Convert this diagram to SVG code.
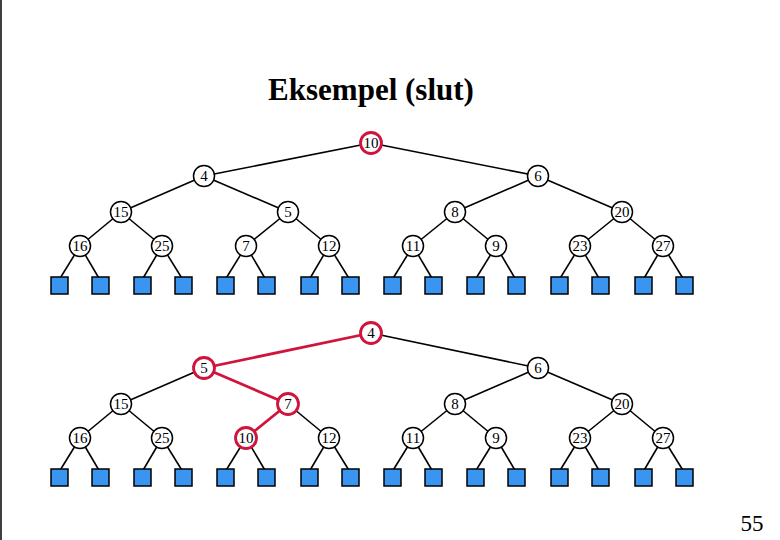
<svg xmlns="http://www.w3.org/2000/svg" width="780" height="540" viewBox="0 0 780 540">
<style>
.n circle{fill:#fff;stroke:#000;stroke-width:1.5}
.n.r circle{stroke:#d0143c;stroke-width:2.8}
.n text{font-family:"Liberation Serif",serif;font-size:15px;text-anchor:middle;dominant-baseline:central}
.e line{stroke:#000;stroke-width:1.6}
.e line.r{stroke:#d0143c;stroke-width:2.8}
.l rect{fill:#3a95f0;stroke:#000;stroke-width:1.5}
.t{font-family:"Liberation Serif",serif}
</style>
<rect x="0" y="0" width="780" height="540" fill="#fff"/>
<line x1="1" y1="0" x2="1" y2="540" stroke="#000" stroke-width="1.5"/>
<text class="t" x="371" y="100" font-size="31" font-weight="bold" text-anchor="middle">Eksempel (slut)</text>
<text class="t" x="752" y="531" font-size="23" text-anchor="middle">55</text>
<g id="connectors" class="e">
<line x1="371" y1="143" x2="204" y2="176"/><line x1="371" y1="143" x2="538" y2="176"/>
<line x1="204" y1="176" x2="121" y2="212"/><line x1="204" y1="176" x2="288" y2="212"/>
<line x1="538" y1="176" x2="455" y2="212"/><line x1="538" y1="176" x2="622" y2="212"/>
<line x1="121" y1="212" x2="80" y2="246"/><line x1="121" y1="212" x2="162" y2="246"/>
<line x1="288" y1="212" x2="246" y2="246"/><line x1="288" y1="212" x2="329" y2="246"/>
<line x1="455" y1="212" x2="413" y2="246"/><line x1="455" y1="212" x2="496" y2="246"/>
<line x1="622" y1="212" x2="580" y2="246"/><line x1="622" y1="212" x2="663" y2="246"/>
<g id="leafEdgesTop">
<line x1="80" y1="246" x2="59" y2="280"/><line x1="80" y1="246" x2="100" y2="280"/>
<line x1="162" y1="246" x2="142" y2="280"/><line x1="162" y1="246" x2="183" y2="280"/>
<line x1="246" y1="246" x2="225" y2="280"/><line x1="246" y1="246" x2="266" y2="280"/>
<line x1="329" y1="246" x2="309" y2="280"/><line x1="329" y1="246" x2="350" y2="280"/>
<line x1="413" y1="246" x2="392" y2="280"/><line x1="413" y1="246" x2="433" y2="280"/>
<line x1="496" y1="246" x2="475" y2="280"/><line x1="496" y1="246" x2="516" y2="280"/>
<line x1="580" y1="246" x2="559" y2="280"/><line x1="580" y1="246" x2="600" y2="280"/>
<line x1="663" y1="246" x2="643" y2="280"/><line x1="663" y1="246" x2="684" y2="280"/>
</g>
<line class="r" x1="371" y1="333" x2="204" y2="368"/><line x1="371" y1="333" x2="538" y2="368"/>
<line x1="204" y1="368" x2="121" y2="404"/><line class="r" x1="204" y1="368" x2="288" y2="404"/>
<line x1="538" y1="368" x2="455" y2="404"/><line x1="538" y1="368" x2="622" y2="404"/>
<line x1="121" y1="404" x2="80" y2="438"/><line x1="121" y1="404" x2="162" y2="438"/>
<line class="r" x1="288" y1="404" x2="246" y2="438"/><line x1="288" y1="404" x2="329" y2="438"/>
<line x1="455" y1="404" x2="413" y2="438"/><line x1="455" y1="404" x2="496" y2="438"/>
<line x1="622" y1="404" x2="580" y2="438"/><line x1="622" y1="404" x2="663" y2="438"/>
<use href="#leafEdgesTop" y="192"/>
</g>
<g class="l">
<g id="leavesTop">
<rect x="51" y="277" width="17" height="17"/><rect x="92" y="277" width="17" height="17"/>
<rect x="134" y="277" width="17" height="17"/><rect x="175" y="277" width="17" height="17"/>
<rect x="217" y="277" width="17" height="17"/><rect x="258" y="277" width="17" height="17"/>
<rect x="301" y="277" width="17" height="17"/><rect x="342" y="277" width="17" height="17"/>
<rect x="384" y="277" width="17" height="17"/><rect x="425" y="277" width="17" height="17"/>
<rect x="467" y="277" width="17" height="17"/><rect x="508" y="277" width="17" height="17"/>
<rect x="551" y="277" width="17" height="17"/><rect x="592" y="277" width="17" height="17"/>
<rect x="635" y="277" width="17" height="17"/><rect x="676" y="277" width="17" height="17"/>
</g>
<use href="#leavesTop" y="192"/>
</g>
<g id="t10" class="n r"><circle cx="371" cy="143" r="10.5"/><text x="371" y="143">10</text></g>
<g id="t4" class="n"><circle cx="204" cy="176" r="10.5"/><text x="204" y="176">4</text></g>
<g id="t6" class="n"><circle cx="538" cy="176" r="10.5"/><text x="538" y="176">6</text></g>
<g id="t15" class="n"><circle cx="121" cy="212" r="10.5"/><text x="121" y="212">15</text></g>
<g id="t5" class="n"><circle cx="288" cy="212" r="10.5"/><text x="288" y="212">5</text></g>
<g id="t8" class="n"><circle cx="455" cy="212" r="10.5"/><text x="455" y="212">8</text></g>
<g id="t20" class="n"><circle cx="622" cy="212" r="10.5"/><text x="622" y="212">20</text></g>
<g id="t16" class="n"><circle cx="80" cy="246" r="10.5"/><text x="80" y="246">16</text></g>
<g id="t25" class="n"><circle cx="162" cy="246" r="10.5"/><text x="162" y="246">25</text></g>
<g id="t7" class="n"><circle cx="246" cy="246" r="10.5"/><text x="246" y="246">7</text></g>
<g id="t12" class="n"><circle cx="329" cy="246" r="10.5"/><text x="329" y="246">12</text></g>
<g id="t11" class="n"><circle cx="413" cy="246" r="10.5"/><text x="413" y="246">11</text></g>
<g id="t9" class="n"><circle cx="496" cy="246" r="10.5"/><text x="496" y="246">9</text></g>
<g id="t23" class="n"><circle cx="580" cy="246" r="10.5"/><text x="580" y="246">23</text></g>
<g id="t27" class="n"><circle cx="663" cy="246" r="10.5"/><text x="663" y="246">27</text></g>
<g id="b4" class="n r"><circle cx="371" cy="333" r="10.5"/><text x="371" y="333">4</text></g>
<g id="b5" class="n r"><circle cx="204" cy="368" r="10.5"/><text x="204" y="368">5</text></g>
<g id="b6" class="n"><circle cx="538" cy="368" r="10.5"/><text x="538" y="368">6</text></g>
<g id="b15" class="n"><circle cx="121" cy="404" r="10.5"/><text x="121" y="404">15</text></g>
<g id="b7" class="n r"><circle cx="288" cy="404" r="10.5"/><text x="288" y="404">7</text></g>
<g id="b8" class="n"><circle cx="455" cy="404" r="10.5"/><text x="455" y="404">8</text></g>
<g id="b20" class="n"><circle cx="622" cy="404" r="10.5"/><text x="622" y="404">20</text></g>
<g id="b16" class="n"><circle cx="80" cy="438" r="10.5"/><text x="80" y="438">16</text></g>
<g id="b25" class="n"><circle cx="162" cy="438" r="10.5"/><text x="162" y="438">25</text></g>
<g id="b10" class="n r"><circle cx="246" cy="438" r="10.5"/><text x="246" y="438">10</text></g>
<g id="b12" class="n"><circle cx="329" cy="438" r="10.5"/><text x="329" y="438">12</text></g>
<g id="b11" class="n"><circle cx="413" cy="438" r="10.5"/><text x="413" y="438">11</text></g>
<g id="b9" class="n"><circle cx="496" cy="438" r="10.5"/><text x="496" y="438">9</text></g>
<g id="b23" class="n"><circle cx="580" cy="438" r="10.5"/><text x="580" y="438">23</text></g>
<g id="b27" class="n"><circle cx="663" cy="438" r="10.5"/><text x="663" y="438">27</text></g>
</svg>
